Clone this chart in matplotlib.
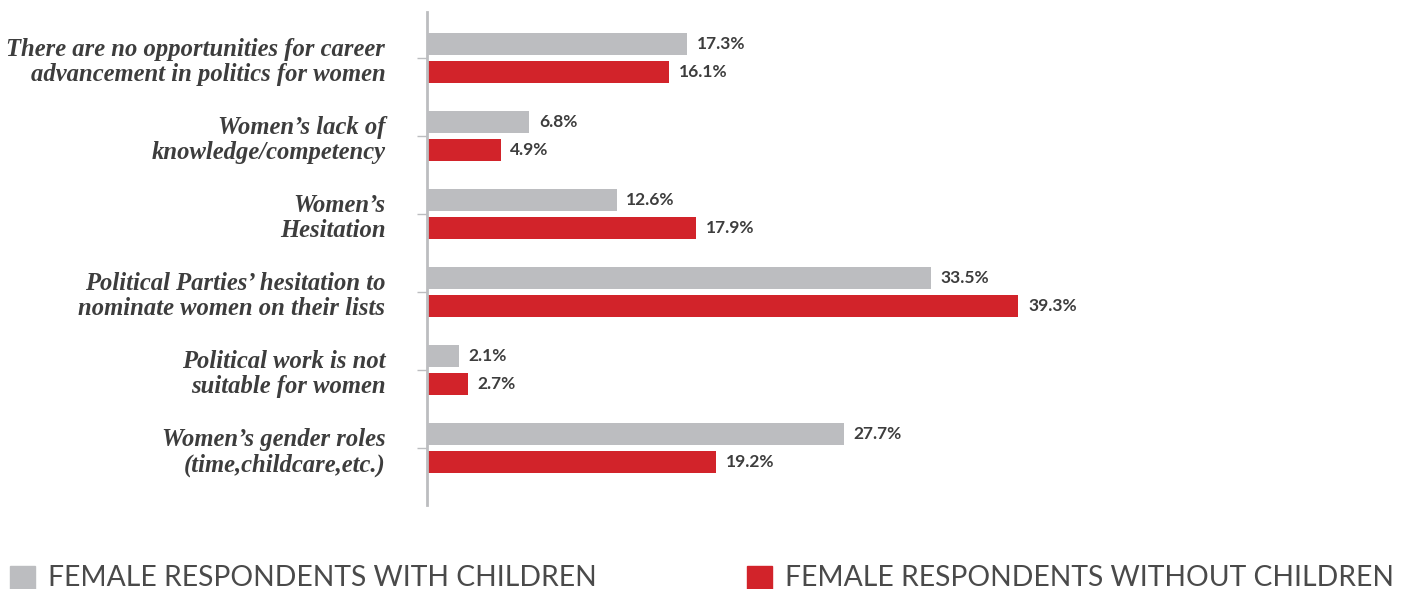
import numpy as np
import matplotlib.pyplot as plt
from matplotlib.patches import Rectangle

# data:
categories = [
    'There are no opportunities for career\nadvancement in politics for women',
    "Women\u2019s lack of\nknowledge/competency",
    "Women\u2019s\nHesitation",
    "Political Parties\u2019 hesitation to\nnominate women on their lists",
    'Political work is not\nsuitable for women',
    "Women\u2019s gender roles\n(time,childcare,etc.)",
]
with_children = [17.3, 6.8, 12.6, 33.5, 2.1, 27.7]
without_children = [16.1, 4.9, 17.9, 39.3, 2.7, 19.2]
series_names = ['FEMALE RESPONDENTS WITH CHILDREN',
                'FEMALE RESPONDENTS WITHOUT CHILDREN']

gray = '#bcbdc0'
red = '#d2232a'
text_color = '#3d3d3d'

fig = plt.figure(figsize=(14.08, 5.89), dpi=100)
ax = fig.add_axes([427 / 1408, 1 - 505 / 589, 1 - 427 / 1408, 493 / 589])

y = np.arange(len(categories))
off = 0.183
h = 0.285
ax.barh(y - off, with_children, height=h, color=gray)
ax.barh(y + off, without_children, height=h, color=red)

for yi, v in zip(y, with_children):
    ax.annotate('%0.1f%%' % v, (v, yi - off), xytext=(7, 0),
                textcoords='offset points', va='center', ha='left',
                fontsize=12.5, fontweight='bold', family='Lato', color=text_color)
for yi, v in zip(y, without_children):
    ax.annotate('%0.1f%%' % v, (v, yi + off), xytext=(7, 0),
                textcoords='offset points', va='center', ha='left',
                fontsize=12.5, fontweight='bold', family='Lato', color=text_color)

ax.set_xlim(0, 65.2)
ax.set_ylim(5.73, -0.59)
ax.set_yticks(y)
ax.set_yticklabels(categories, family='Liberation Serif', style='italic',
                   fontweight='bold', fontsize=17.7, color=text_color,
                   linespacing=1.15)
ax.tick_params(axis='y', length=7, width=1, color=gray, pad=23)
ax.set_xticks([])
for s in ['top', 'right', 'bottom']:
    ax.spines[s].set_visible(False)
ax.spines['left'].set_color(gray)
ax.spines['left'].set_linewidth(2)

# legend:
for x0, color, name in [(10, gray, series_names[0]),
                        (747, red, series_names[1])]:
    fig.add_artist(Rectangle((x0 / 1408, 0), 25 / 1408, 23 / 589,
                             transform=fig.transFigure, color=color))
    fig.text((x0 + 38) / 1408, 1 - 578 / 589, name, va='center', ha='left',
             fontsize=20.3, family='Lato', fontweight='normal', color='#4a4a4a')

plt.savefig('out.png')
